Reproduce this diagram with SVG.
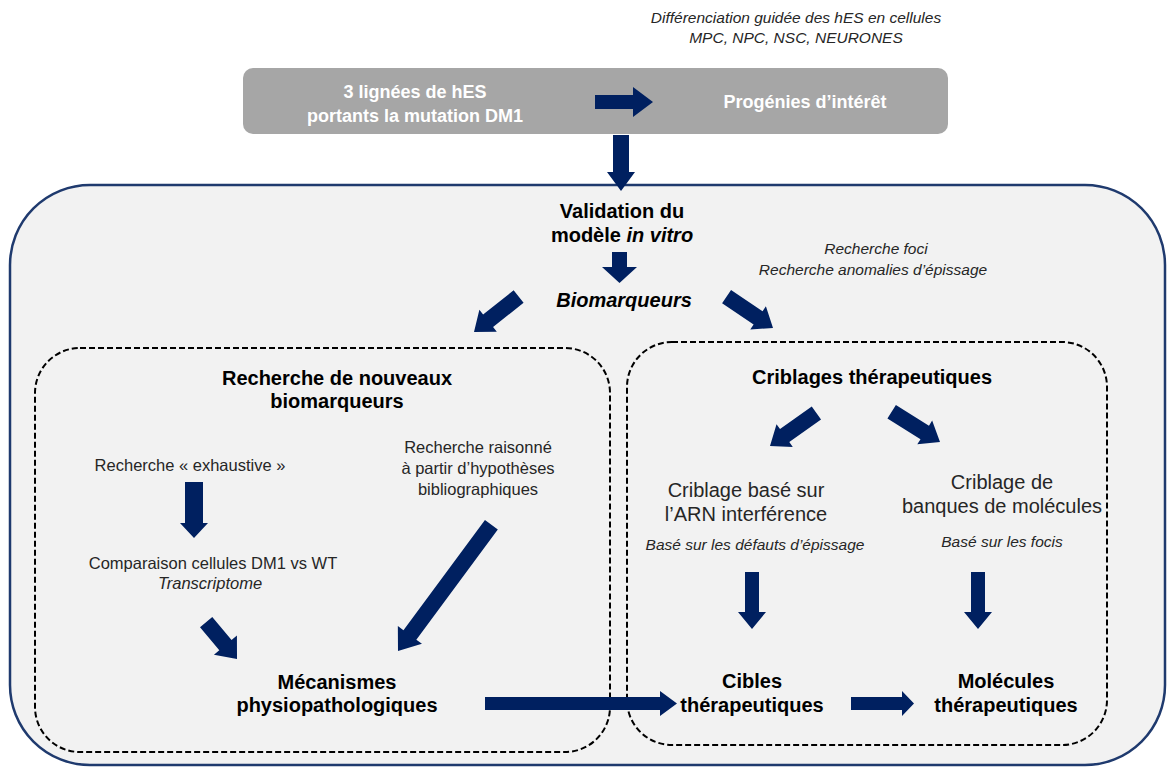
<svg xmlns="http://www.w3.org/2000/svg" width="1168" height="769" viewBox="0 0 1168 769">
<style>
.b{font-family:"Liberation Sans",Arial,sans-serif;font-weight:bold;font-size:20px;fill:#000;text-anchor:middle}
.n{font-family:"Liberation Sans",Arial,sans-serif;font-size:16.5px;fill:#262626;text-anchor:middle}
.m{font-family:"Liberation Sans",Arial,sans-serif;font-size:20px;fill:#262626;text-anchor:middle}
.i{font-family:"Liberation Sans",Arial,sans-serif;font-style:italic;font-size:15.5px;fill:#262626;text-anchor:middle}
.w{font-family:"Liberation Sans",Arial,sans-serif;font-weight:bold;font-size:18px;fill:#fff;text-anchor:middle}
.dash{fill:none;stroke:#000;stroke-width:2;stroke-dasharray:6 3}
.ar{fill:#002060}
</style>
<rect width="1168" height="769" fill="#fff"/>
<g id="outer">
<rect x="10" y="185" width="1155" height="580" rx="80" ry="80" fill="#f2f2f2" stroke="#1f3a6e" stroke-width="2.5"/>
</g>
<g id="top-note">
<text class="i" x="796" y="23">Différenciation guidée des hES en cellules</text>
<text class="i" x="796" y="43">MPC, NPC, NSC, NEURONES</text>
</g>
<g id="hes-box">
<rect x="243" y="68" width="705" height="66" rx="10" fill="#a6a6a6"/>
<text class="w" x="415" y="98">3 lignées de hES</text>
<text class="w" x="415" y="122">portants la mutation DM1</text>
<text class="w" x="805" y="108" font-size="19">Progénies d’intérêt</text>
</g>
<g id="validation">
<text class="b" x="622" y="218">Validation du</text>
<text class="b" x="622" y="242">modèle <tspan font-style="italic">in vitro</tspan></text>
</g>
<g id="biomarqueurs">
<text class="b" x="624" y="307" font-style="italic">Biomarqueurs</text>
</g>
<g id="recherche-foci">
<text class="i" x="876" y="254">Recherche foci</text>
<text class="i" x="873" y="275">Recherche anomalies d’épissage</text>
</g>
<g id="nouveaux-biomarqueurs">
<rect class="dash" x="35" y="348" width="575" height="404" rx="45"/>
<text class="b" x="337" y="385">Recherche de nouveaux</text>
<text class="b" x="337" y="408">biomarqueurs</text>
</g>
<g id="exhaustive"><text class="n" x="190" y="471">Recherche « exhaustive »</text></g>
<g id="comparaison">
<text class="n" x="213" y="569">Comparaison cellules DM1 vs WT</text>
<text class="n" x="210" y="589" font-style="italic">Transcriptome</text>
</g>
<g id="raisonne">
<text class="n" x="478" y="453">Recherche raisonné</text>
<text class="n" x="478" y="474">à partir d’hypothèses</text>
<text class="n" x="478" y="495">bibliographiques</text>
</g>
<g id="mecanismes">
<text class="b" x="337" y="689">Mécanismes</text>
<text class="b" x="337" y="712">physiopathologiques</text>
</g>
<g id="criblages">
<rect class="dash" x="627" y="342" width="480" height="403" rx="45"/>
<text class="b" x="872" y="384">Criblages thérapeutiques</text>
</g>
<g id="arn">
<text class="m" x="746" y="497">Criblage basé sur</text>
<text class="m" x="746" y="521">l’ARN interférence</text>
<text class="i" x="755" y="550">Basé sur les défauts d’épissage</text>
</g>
<g id="banques">
<text class="m" x="1002" y="489">Criblage de</text>
<text class="m" x="1002" y="513">banques de molécules</text>
<text class="i" x="1002" y="547">Basé sur les focis</text>
</g>
<g id="cibles">
<text class="b" x="752" y="688">Cibles</text>
<text class="b" x="752" y="712">thérapeutiques</text>
</g>
<g id="molecules">
<text class="b" x="1006" y="688">Molécules</text>
<text class="b" x="1006" y="712">thérapeutiques</text>
</g>
<g id="connectors">
<polygon class="ar" points="595,95 633,95 633,87 653,102 633,117 633,109 595,109"/>
<polygon class="ar" points="613,135 629,135 629,172 635,172 621,191 607,172 613,172"/>
<polygon class="ar" points="612,252 627,252 627,267 637,267 619.5,283 602,267 612,267"/>
<g transform="translate(474,332) rotate(-38.5)"><polygon class="ar" points="0,0 18,-14 18,-8 57,-8 57,8 18,8 18,14"/></g>
<g transform="translate(773,328) rotate(-146)"><polygon class="ar" points="0,0 18,-14 18,-8 56,-8 56,8 18,8 18,14"/></g>
<polygon class="ar" points="185,482 203,482 203,523 208,523 194,538 180,523 185,523"/>
<g transform="translate(237,659) rotate(-130)"><polygon class="ar" points="0,0 18,-15 18,-8 48,-8 48,8 18,8 18,15"/></g>
<g transform="translate(398,651) rotate(-53.5)"><polygon class="ar" points="0,0 20,-15 20,-8 157,-8 157,8 20,8 20,15"/></g>
<polygon class="ar" points="485,697 660,697 660,691 677,703.5 660,716 660,710 485,710"/>
<g transform="translate(770,446) rotate(-35.5)"><polygon class="ar" points="0,0 18,-14 18,-8 57,-8 57,8 18,8 18,14"/></g>
<g transform="translate(940,442) rotate(-148)"><polygon class="ar" points="0,0 18,-14 18,-8 57,-8 57,8 18,8 18,14"/></g>
<polygon class="ar" points="745,572 759,572 759,612 766,612 752,629 738,612 745,612"/>
<polygon class="ar" points="971,572 985,572 985,612 992,612 978,629 964,612 971,612"/>
<polygon class="ar" points="851,697 902,697 902,691 914,703.5 902,716 902,710 851,710"/>
</g>
</svg>
